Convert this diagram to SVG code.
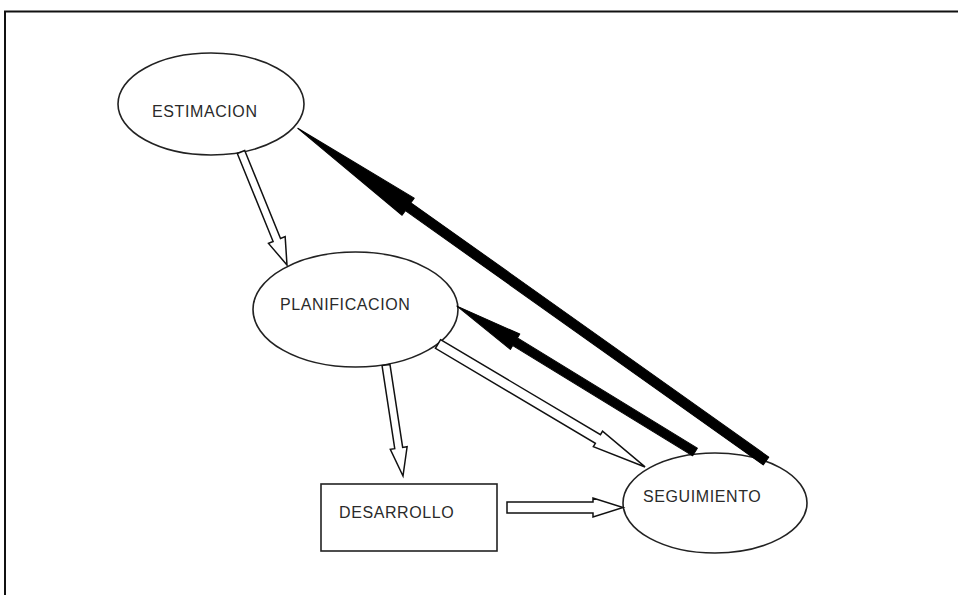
<svg xmlns="http://www.w3.org/2000/svg" width="958" height="595" viewBox="0 0 958 595">
  <defs>
    <style>
      .frame { fill: none; stroke: #111; stroke-width: 2; }
      .node { fill: #fff; stroke: #222; stroke-width: 1.6; }
      .label { font-family: "Liberation Sans", Arial, sans-serif; font-size: 16px; letter-spacing: 0.6px; fill: #2a2a2a; }
      .hollow { fill: #fff; stroke: #111; stroke-width: 1.5; stroke-linejoin: miter; }
      .solid { fill: #000; stroke: #000; stroke-width: 1; stroke-linejoin: round; }
    </style>
  </defs>

  <rect x="0" y="0" width="958" height="595" fill="#fff"/>
  <!-- page frame: top and left rules only -->
  <path class="frame" d="M5,595 L5,11.5 L958,11.5"/>

  <g id="estimacion">
    <ellipse class="node" cx="211" cy="104" rx="93" ry="51"/>
    <text class="label" x="152" y="117">ESTIMACION</text>
  </g>

  <g id="planificacion">
    <ellipse class="node" cx="355.5" cy="309.5" rx="102.5" ry="57.5"/>
    <text class="label" x="280" y="310">PLANIFICACION</text>
  </g>

  <g id="desarrollo">
    <rect class="node" x="321" y="484" width="176" height="67"/>
    <text class="label" x="339" y="518" letter-spacing="1.1">DESARROLLO</text>
  </g>

  <g id="seguimiento">
    <ellipse class="node" cx="715" cy="503" rx="92" ry="50"/>
    <text class="label" x="643" y="502">SEGUIMIENTO</text>
  </g>

  <g id="connectors">
    <!-- hollow arrows: drawn along +x, then placed with translate/rotate -->
    <!-- ESTIMACION -> PLANIFICACION -->
    <path class="hollow" transform="translate(241,152) rotate(67.85)"
          d="M0,-4 L95,-4 L95,-9 L122,0 L95,9 L95,4 L0,4 Z"/>
    <!-- PLANIFICACION -> DESARROLLO -->
    <path class="hollow" transform="translate(386,365) rotate(81.3)"
          d="M0,-4 L84,-4 L84,-8.5 L112.3,0 L84,8.5 L84,4 L0,4 Z"/>
    <!-- DESARROLLO -> SEGUIMIENTO -->
    <path class="hollow" transform="translate(507,507.5) rotate(0)"
          d="M0,-5.5 L86,-5.5 L86,-9.5 L116,0 L86,9.5 L86,5.5 L0,5.5 Z"/>
    <!-- PLANIFICACION -> SEGUIMIENTO -->
    <path class="hollow" transform="translate(438,344) rotate(30.7)"
          d="M0,-5 L186,-5 L186,-9 L240.8,0 L186,9 L186,5 L0,5 Z"/>

    <!-- solid arrows: SEGUIMIENTO back to PLANIFICACION and ESTIMACION -->
    <path class="solid" transform="translate(695,452) rotate(211.5)"
          d="M0,-4.5 L211,-4.5 L211,-9 L279.2,0 L211,9 L211,4.5 L0,4.5 Z"/>
    <path class="solid" transform="translate(766,461) rotate(215.4)"
          d="M0,-4.8 L439,-4.8 L439,-10.5 L574.4,0 L439,10.5 L439,4.8 L0,4.8 Z"/>
  </g>
</svg>
